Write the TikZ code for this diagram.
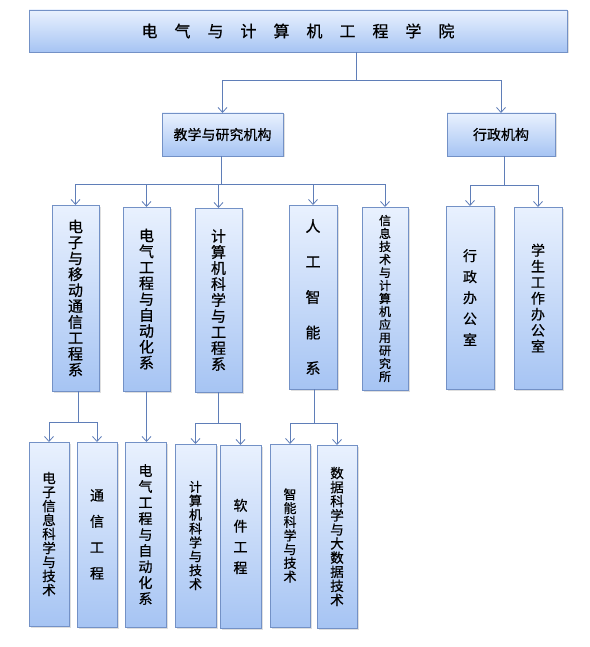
\documentclass[tikz,border=0pt]{standalone}
\usepackage{fontspec}
\setmainfont{Noto Sans CJK SC}[FakeBold=0.6]
\usetikzlibrary{arrows.meta,shadows}
\definecolor{boxtop}{HTML}{E9F1FE}
\definecolor{boxbot}{HTML}{A6C4F3}
\definecolor{boxline}{HTML}{7391C6}
\definecolor{linkline}{HTML}{5F7EB8}
\tikzset{
  unit/.style={draw=boxline,line width=0.8pt,top color=boxtop,bottom color=boxbot,
    drop shadow={shadow xshift=1.5pt,shadow yshift=-1.5pt,opacity=.25},
    inner sep=0pt,outer sep=0pt,align=center},
  col/.style 2 args={unit,font=\fontsize{#1}{#2}\selectfont},
  link/.style={draw=linkline,line width=0.8pt},
  arr/.style={link,-{Straight Barb[length=5pt,width=9pt]}},
}
\newcommand\tgap{\hspace{17pt}}

\begin{document}
\begin{tikzpicture}[x=1pt,y=-1pt]
\useasboundingbox (0,0) rectangle (589,647);
% top level
\node[unit,font=\fontsize{16}{18}\selectfont,minimum width=538pt,minimum height=42pt] (college) at (298,31)
  {电\tgap 气\tgap 与\tgap 计\tgap 算\tgap 机\tgap 工\tgap 程\tgap 学\tgap 院};
\node[unit,font=\fontsize{14}{16}\selectfont,minimum width=121pt,minimum height=43pt] (teach) at (222.5,134.5) {教学与研究机构};
\node[unit,font=\fontsize{14}{16}\selectfont,minimum width=108pt,minimum height=43pt] (admin) at (501,134.5) {行政机构};
% departments
\node[col={15}{15.9},minimum width=47pt,minimum height=186pt] (d1) at (75.5,298) {电\\子\\与\\移\\动\\通\\信\\工\\程\\系};
\node[col={15}{15.9},minimum width=47pt,minimum height=184pt] (d2) at (146.5,299) {电\\气\\工\\程\\与\\自\\动\\化\\系};
\node[col={15}{16},minimum width=47pt,minimum height=184pt] (d3) at (218.5,300) {计\\算\\机\\科\\学\\与\\工\\程\\系};
\node[col={15}{35.5},minimum width=48pt,minimum height=184pt] (d4) at (313,297) {人\\工\\智\\能\\系};
\node[col={12}{13},minimum width=46pt,minimum height=183pt] (d5) at (385,298.5) {信\\息\\技\\术\\与\\计\\算\\机\\应\\用\\研\\究\\所};
\node[col={14}{21},minimum width=48pt,minimum height=183pt] (a1) at (470,297.5) {行\\政\\办\\公\\室};
\node[col={14}{16},minimum width=48pt,minimum height=182pt] (a2) at (538,298) {学\\生\\工\\作\\办\\公\\室};
% majors
\node[col={13.5}{14},minimum width=40pt,minimum height=184pt] (b1) at (49,534) {电\\子\\信\\息\\科\\学\\与\\技\\术};
\node[col={14}{26},minimum width=40pt,minimum height=185pt] (b2) at (97,534.5) {通\\信\\工\\程};
\node[col={14}{16},minimum width=41pt,minimum height=185pt] (b3) at (145.5,534.5) {电\\气\\工\\程\\与\\自\\动\\化\\系};
\node[col={13}{13.9},minimum width=41pt,minimum height=183pt] (b4) at (195.5,535.5) {计\\算\\机\\科\\学\\与\\技\\术};
\node[col={14}{20.8},minimum width=41pt,minimum height=183pt] (b5) at (240.5,536.5) {软\\件\\工\\程};
\node[col={13}{13.7},minimum width=40pt,minimum height=183pt] (b6) at (290,535.5) {智\\能\\科\\学\\与\\技\\术};
\node[col={13.5}{14.1},minimum width=40pt,minimum height=183pt] (b7) at (337,536.5) {数\\据\\科\\学\\与\\大\\数\\据\\技\\术};
% connectors
\coordinate (hubA) at (356,80);
\draw[link] (hubA |- college.south) -- (hubA);
\draw[arr] (hubA) -| (teach.north);
\draw[arr] (hubA) -| (admin.north);
\path (teach.south) ++(-1.5,28) coordinate (hubB);
\draw[link] (teach.south -| hubB) -- (hubB);
\foreach \d in {d1,d2,d3,d4,d5}
  \draw[arr] (hubB) -| (\d.north);
\path (admin.south) ++(3,29) coordinate (hubC);
\draw[link] (admin.south -| hubC) -- (hubC);
\foreach \d in {a1,a2}
  \draw[arr] (hubC) -| (\d.north);
\path (d1.south) ++(2.5,31) coordinate (hubD);
\draw[link] (d1.south -| hubD) -- (hubD);
\foreach \b in {b1,b2}
  \draw[arr] (hubD) -| (\b.north);
\draw[arr] (d2.south) -- (d2.south |- b3.north);
\path (d3.south) ++(0,31) coordinate (hubE);
\draw[link] (d3.south) -- (hubE);
\foreach \b in {b4,b5}
  \draw[arr] (hubE) -| (\b.north);
\path (d4.south) ++(1,34) coordinate (hubF);
\draw[link] (d4.south -| hubF) -- (hubF);
\foreach \b in {b6,b7}
  \draw[arr] (hubF) -| (\b.north);
\end{tikzpicture}
\end{document}
